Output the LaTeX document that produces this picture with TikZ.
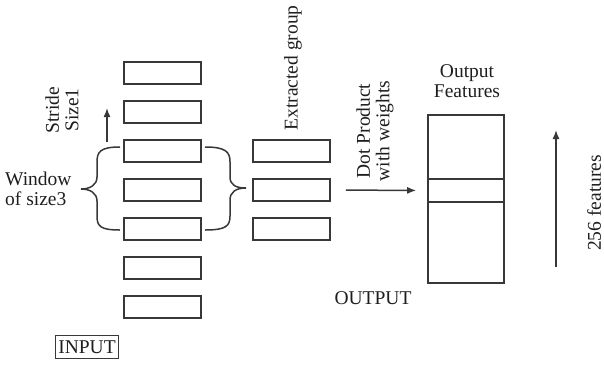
\documentclass[tikz,border=0pt]{standalone}
\usepackage{fontspec}
\setmainfont{Liberation Serif}
\usetikzlibrary{arrows.meta}
\definecolor{ln}{HTML}{383838}
\definecolor{tx}{HTML}{1E1E1E}
\begin{document}
\begin{tikzpicture}[x=1pt,y=-1pt,
  font=\fontsize{19.5}{19.5}\selectfont, text=tx,
  cell/.style={draw=ln,line width=1.6pt,minimum width=77pt,minimum height=22pt,inner sep=0pt},
  lbl/.style={inner sep=0pt,align=center},
  arr/.style={draw=ln,line width=1.5pt,-{Latex[length=9pt,width=7pt]}},
  brc/.style={draw=ln,line width=1.5pt}]
\useasboundingbox (0,0) rectangle (604,365);
% input column
\foreach \i/\y in {1/73,2/112,3/151,4/190,5/229,6/268,7/307}
  \node[cell] (in\i) at (162.5,\y) {};
% extracted group
\node[cell] (ea) at (291.5,151) {};
\node[cell] (eb) at (291.5,190) {};
\node[cell] (ec) at (291.5,229) {};
% output
\node[draw=ln,line width=1.6pt,minimum width=76pt,minimum height=168pt,inner sep=0pt] (out) at (466,199) {};
\node[draw=ln,line width=1.6pt,minimum width=76pt,minimum height=23pt,inner sep=0pt] (outseg) at (466,190.5) {};
% INPUT label
\node[draw=ln,line width=1.5pt,inner xsep=3pt,inner ysep=5pt] (input) at (87,347) {INPUT};
% braces
\draw[brc] (120,147)
  .. controls (100,147) and (97,152) .. (97,162) -- (97,177)
  .. controls (97,185) and (90,189) .. (81,189)
  .. controls (90,189) and (97,193) .. (97,201) -- (97,216)
  .. controls (97,226) and (100,230) .. (120,230);
\draw[brc] (205,147)
  .. controls (226,147) and (230,152) .. (230,162) -- (230,177)
  .. controls (230,185) and (236,188) .. (246,188)
  .. controls (236,188) and (230,192) .. (230,200) -- (230,216)
  .. controls (230,226) and (226,230) .. (205,230);
% stride arrow
\coordinate (s0) at (107,142);
\coordinate (s1) at (107,108);
\draw[arr] (s0) -- (s1);
% dot product arrow
\draw[arr,shorten <=15pt,shorten >=11pt] (eb.east) -- (outseg.west);
% 256 features arrow
\coordinate (f0) at (556,267);
\coordinate (f1) at (556,130);
\draw[arr] (f0) -- (f1);
% labels
\node[lbl,rotate=90] (stride) at (62,110) {Stride\\Size1};
\node[lbl,align=left,anchor=west] (window) at (5,189) {Window\\of size3};
\node[lbl,rotate=90] (extr) at (293,68) {Extracted group};
\node[lbl,rotate=90] (dot) at (375,131) {Dot Product\\with weights};
\node[lbl] (ofeat) at (467,81) {Output\\Features};
\node[lbl] (outlbl) at (373,298) {OUTPUT};
\node[lbl,rotate=90] (feat) at (594,203) {256 features};
\end{tikzpicture}
\end{document}
